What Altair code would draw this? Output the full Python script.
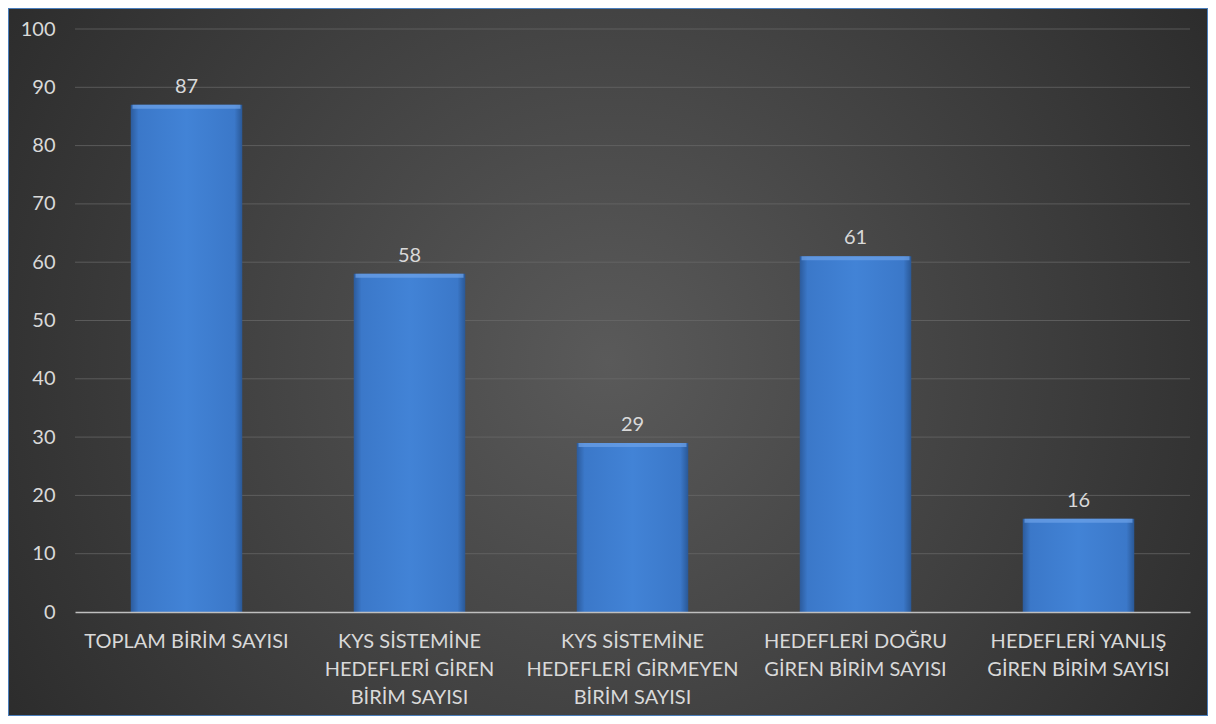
import altair as alt
import pandas as pd

categories = [
    "TOPLAM BİRİM SAYISI",
    "KYS SİSTEMİNE|HEDEFLERİ GİREN|BİRİM SAYISI",
    "KYS SİSTEMİNE|HEDEFLERİ GİRMEYEN|BİRİM SAYISI",
    "HEDEFLERİ DOĞRU|GİREN BİRİM SAYISI",
    "HEDEFLERİ YANLIŞ|GİREN BİRİM SAYISI",
]
values = [87, 58, 29, 61, 16]
y_ticks = [0, 10, 20, 30, 40, 50, 60, 70, 80, 90, 100]

df = pd.DataFrame({"cat": categories, "val": values})
grid_df = pd.DataFrame({"t": y_ticks[1:]})

W, H = 1115, 583
PL, PT, PR, PB = 67, 21, 18, 104
FONT = "Lato"
TXT = "#d9d9d9"
FS = 20

bg = alt.Chart(pd.DataFrame({"a": [0]})).mark_rect(
    fill={"gradient": "radial", "x1": 0.5, "y1": 0.5, "r1": 0, "x2": 0.5, "y2": 0.5, "r2": 0.7,
          "stops": [{"offset": 0, "color": "#5a5a5a"}, {"offset": 1, "color": "#232323"}]},
    stroke="#4a7ebb", strokeWidth=2,
).encode(
    x=alt.value(-PL), x2=alt.value(W + PR),
    y=alt.value(-PT), y2=alt.value(H + PB),
)

grid = alt.Chart(grid_df).mark_rule(color="#6a6a6a", strokeWidth=1, opacity=0.7).encode(
    y=alt.Y("t:Q", scale=alt.Scale(domain=[0, 100])),
    x=alt.value(0), x2=alt.value(W),
)

xenc = alt.X("cat:N", sort=categories,
             scale=alt.Scale(paddingInner=0.5, paddingOuter=0.25),
             axis=alt.Axis(title=None, labelAngle=0, labelExpr="split(datum.value, '|')",
                           labelColor=TXT, labelFont=FONT, labelFontSize=FS, labelLineHeight=28,
                           labelPadding=19, labelLimit=400, ticks=False, domainColor="#bfbfbf",
                           domainWidth=1.5, labelBaseline="top", zindex=1))
yenc = alt.Y("val:Q", scale=alt.Scale(domain=[0, 100]),
             axis=alt.Axis(title=None, values=y_ticks, labelColor=TXT,
                           labelFont=FONT, labelFontSize=FS, labelPadding=20, ticks=False,
                           domain=False, grid=False, zindex=1))

bars = alt.Chart(df).mark_bar(
    fill={"gradient": "linear", "x1": 0, "y1": 0, "x2": 1, "y2": 0,
          "stops": [{"offset": 0, "color": "#2c5b9c"}, {"offset": 0.07, "color": "#3b78c9"},
                    {"offset": 0.5, "color": "#4283d6"}, {"offset": 0.93, "color": "#3b78c9"},
                    {"offset": 1, "color": "#2a5896"}]},
).encode(x=xenc, y=yenc)

tops = alt.Chart(df).mark_tick(color="#6da3e8", thickness=4, size=108, yOffset=2).encode(
    x=alt.X("cat:N", sort=categories), y="val:Q")

labels = alt.Chart(df).mark_text(
    baseline="bottom", dy=-8, font=FONT, fontSize=FS, color=TXT
).encode(x=alt.X("cat:N", sort=categories), y="val:Q", text="val:Q")

chart = alt.layer(bg, grid, bars, tops, labels).properties(
    width=W, height=H,
    autosize=alt.AutoSizeParams(type="none"),
    padding={"left": PL, "top": PT, "right": PR, "bottom": PB},
    background="white",
).configure_view(stroke=None)

chart.save("out.html", embed_options={"renderer": "svg", "actions": False})
